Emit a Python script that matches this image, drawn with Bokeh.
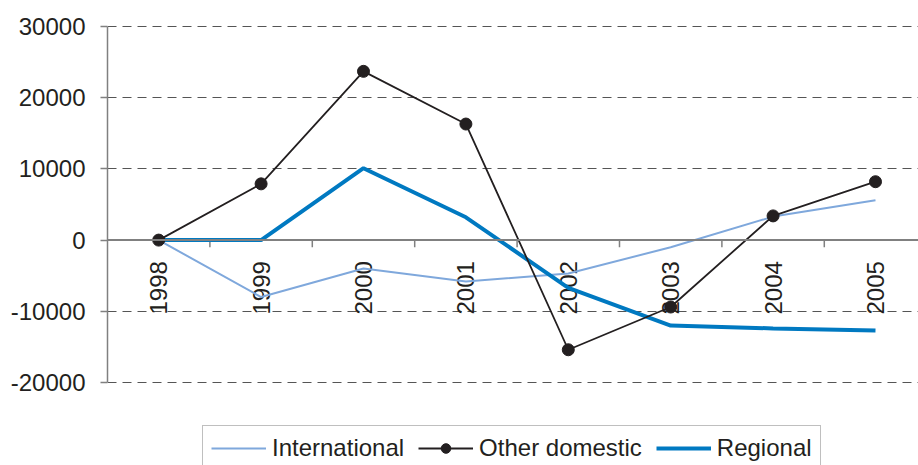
import math
from bokeh.plotting import figure
from bokeh.models import (Range1d, FixedTicker, Span, Legend, LegendItem,
                          PrintfTickFormatter)
from bokeh.core.properties import value
from bokeh.embed import file_html
from bokeh.resources import INLINE

years = ["1998", "1999", "2000", "2001", "2002", "2003", "2004", "2005"]
international = [0, -8000, -4000, -5800, -4700, -1000, 3300, 5600]
other_domestic = [0, 7900, 23700, 16300, -15400, -9400, 3400, 8200]
regional = [0, 0, 10100, 3200, -6700, -12000, -12400, -12700]
y_ticks = [-20000, -10000, 0, 10000, 20000, 30000]

FONT = "Liberation Sans"
TXT = "#231f20"
FS = "24px"

xs = list(range(len(years)))

# frame: top at 20px, bottom at 465px, 71.2 px per 10000
p = figure(width=918, height=465, output_backend="svg", toolbar_location=None,
           x_range=Range1d(-0.5, 7.42), y_range=Range1d(-31657, 30843),
           min_border_left=107, min_border_top=20, min_border_right=0,
           min_border_bottom=0)
p.outline_line_color = None
p.background_fill_color = "white"
p.border_fill_color = "white"

# y axis
p.yaxis.ticker = FixedTicker(ticks=y_ticks)
p.yaxis.bounds = (y_ticks[0], y_ticks[-1])
p.yaxis.formatter = PrintfTickFormatter(format="%d")
p.yaxis.axis_line_color = "#808080"
p.yaxis.axis_line_width = 1.5
p.yaxis.major_tick_line_color = "#808080"
p.yaxis.major_tick_line_width = 1.5
p.yaxis.major_tick_out = 7
p.yaxis.major_tick_in = 0
p.yaxis.minor_tick_line_color = None
p.yaxis.major_label_text_font = FONT
p.yaxis.major_label_text_font_size = FS
p.yaxis.major_label_text_color = TXT
p.yaxis.major_label_standoff = 15

p.xaxis.visible = False
p.xgrid.visible = False
p.ygrid.ticker = FixedTicker(ticks=[t for t in y_ticks if t != 0])
p.ygrid.grid_line_color = "#555555"
p.ygrid.grid_line_dash = "9 6"
p.ygrid.grid_line_width = 1.2

# category axis drawn along y = 0
p.add_layout(Span(location=0, dimension="width", line_color="#808080",
                  line_width=2))
bounds = [i + 0.5 for i in xs[:-1]]
tick_len = 1000
p.segment(x0=bounds, x1=bounds, y0=[0] * len(bounds),
          y1=[-tick_len] * len(bounds), line_color="#808080", line_width=1.5)
p.text(x=xs, y=[0] * len(xs), text=years, angle=math.pi / 2,
       text_align="right", text_baseline="middle", y_offset=21,
       text_font=value(FONT), text_font_size=FS, text_color=TXT)

# series
r_int = p.line(xs, international, line_color="#7fa8dc", line_width=2)
r_reg = p.line(xs, regional, line_color="#0079c1", line_width=4)
r_oth = p.line(xs, other_domestic, line_color="#231f20", line_width=1.8)
r_oth_pts = p.scatter(xs, other_domestic, size=12, fill_color="#231f20",
                      line_color="#231f20")

legend = Legend(items=[
    LegendItem(label="International", renderers=[r_int]),
    LegendItem(label="Other domestic", renderers=[r_oth, r_oth_pts]),
    LegendItem(label="Regional", renderers=[r_reg]),
], orientation="horizontal", location=(95, -6))
legend.label_text_font = FONT
legend.label_text_font_size = FS
legend.label_text_color = TXT
legend.glyph_width = 55
legend.glyph_height = 24
legend.label_standoff = 6
legend.spacing = 14
legend.padding = 8
legend.margin = 0
legend.border_line_color = "#808080"
legend.border_line_width = 1.5
legend.background_fill_alpha = 1
legend.label_height = 20
p.add_layout(legend, "center")

open("out.html", "w").write(file_html(p, INLINE))
